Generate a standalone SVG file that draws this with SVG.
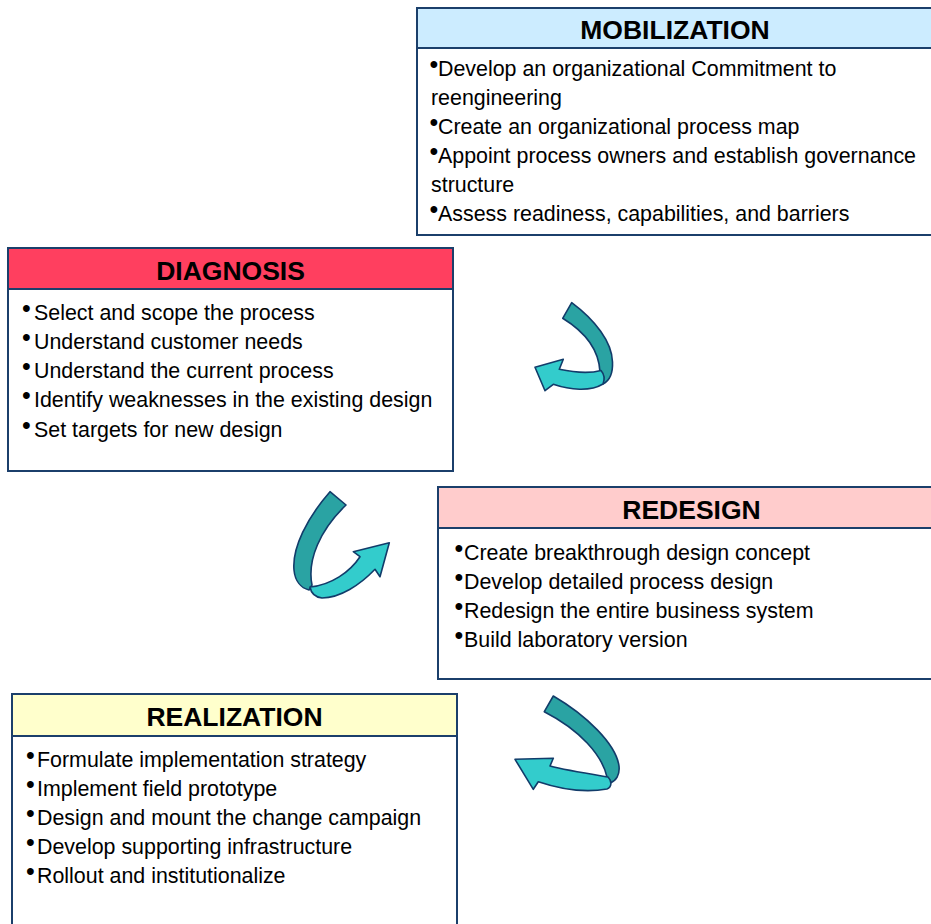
<svg xmlns="http://www.w3.org/2000/svg" width="931" height="924" viewBox="0 0 931 924">
<style>
.box{fill:#FFFFFF;stroke:#1B3F6B;stroke-width:2}
.hdr{stroke:#1B3F6B;stroke-width:2}
.ht{font-family:"Liberation Sans",Arial,sans-serif;font-weight:bold;font-size:26.5px;fill:#000;text-anchor:middle}
.t{font-family:"Liberation Sans",Arial,sans-serif;font-size:21.4px;fill:#000}
.b{font-family:"Liberation Sans",Arial,sans-serif;font-size:25px;fill:#000}
.dk{fill:#2AA3A3;stroke:#123C6A;stroke-width:1.6;stroke-linejoin:round}
.lt{fill:#33CCCC;stroke:#123C6A;stroke-width:1.6;stroke-linejoin:round}
</style>
<rect width="931" height="924" fill="#FFFFFF"/>

<g id="mobilization">
<rect class="box" x="417" y="8" width="530" height="227"/>
<rect class="hdr" x="417" y="8" width="530" height="40" fill="#CCECFF"/>
<text class="ht" x="675" y="39">MOBILIZATION</text>
<text class="b" x="429.5" y="73">•</text><text class="t" x="438" y="76">Develop an organizational Commitment to</text>
<text class="t" x="431" y="105">reengineering</text>
<text class="b" x="429.5" y="131">•</text><text class="t" x="438" y="134">Create an organizational process map</text>
<text class="b" x="429.5" y="160">•</text><text class="t" x="438" y="163">Appoint process owners and establish governance</text>
<text class="t" x="431" y="192">structure</text>
<text class="b" x="429.5" y="218">•</text><text class="t" x="438" y="221">Assess readiness, capabilities, and barriers</text>
</g>

<g id="diagnosis">
<rect class="box" x="8" y="248" width="445" height="223"/>
<rect class="hdr" x="8" y="248" width="445" height="41" fill="#FF3F5F"/>
<text class="ht" x="230.5" y="280">DIAGNOSIS</text>
<text class="b" x="22" y="317">•</text><text class="t" x="34" y="320">Select and scope the process</text>
<text class="b" x="22" y="346">•</text><text class="t" x="34" y="349">Understand customer needs</text>
<text class="b" x="22" y="375">•</text><text class="t" x="34" y="378">Understand the current process</text>
<text class="b" x="22" y="404">•</text><text class="t" x="34" y="407">Identify weaknesses in the existing design</text>
<text class="b" x="22" y="434">•</text><text class="t" x="34" y="437">Set targets for new design</text>
</g>

<g id="redesign">
<rect class="box" x="438" y="487" width="510" height="192"/>
<rect class="hdr" x="438" y="487" width="510" height="41" fill="#FFCCCC"/>
<text class="ht" x="691.5" y="518.5">REDESIGN</text>
<text class="b" x="454.5" y="557">•</text><text class="t" x="464" y="560">Create breakthrough design concept</text>
<text class="b" x="454.5" y="586">•</text><text class="t" x="464" y="589">Develop detailed process design</text>
<text class="b" x="454.5" y="615">•</text><text class="t" x="464" y="618">Redesign the entire business system</text>
<text class="b" x="454.5" y="644">•</text><text class="t" x="464" y="647">Build laboratory version</text>
</g>

<g id="realization">
<rect class="box" x="12" y="694" width="445" height="250"/>
<rect class="hdr" x="12" y="694" width="445" height="42" fill="#FFFFCC"/>
<text class="ht" x="234.5" y="726">REALIZATION</text>
<text class="b" x="26" y="764">•</text><text class="t" x="37" y="767">Formulate implementation strategy</text>
<text class="b" x="26" y="793">•</text><text class="t" x="37" y="796">Implement field prototype</text>
<text class="b" x="26" y="822">•</text><text class="t" x="37" y="825">Design and mount the change campaign</text>
<text class="b" x="26" y="851">•</text><text class="t" x="37" y="854">Develop supporting infrastructure</text>
<text class="b" x="26" y="880">•</text><text class="t" x="37" y="883">Rollout and institutionalize</text>
</g>

<g id="connectors">
<g id="arrow-mob-diag">
<path class="dk" d="M571.7,302.7 C595,320 612,342 612.5,362 C613,374 609,381 603,384 L600,372 C599,350 585,332 562.7,318.3 Z"/>
<path class="lt" d="M601,370.5 C588,374 572,372 559.3,369.3 L563.3,359.3 L535,367.3 L545,390.7 L553.3,384.3 C570,390 590,392 603,384 C605,379 604,374 601,370.5 Z"/>
</g>
<g id="arrow-diag-red">
<path class="dk" d="M330,491.7 C307,518 292,548 294,570 C295,581 301,588 309,590 L312,585 C307,560 320,530 346,505 Z"/>
<path class="lt" d="M310,587 C331,585 350,572 360,556.7 L353.3,551.7 L389.3,542.7 L380,576.7 L375,569.3 C360,585 340,598 322,598 C315,597 311,593 310,587 Z"/>
</g>
<g id="arrow-red-real">
<path class="dk" d="M553.3,696 C586,715 616,744 619,766 C620,775 616,781 610,783 L607,777 C602,755 580,730 544.3,711.7 Z"/>
<path class="lt" d="M608,777 C590,774 565,770 550,766 L553.3,758.3 L515,759.3 L533.3,789.3 L538.3,781.7 C560,789 585,793 607,789 C612,787 612,781 608,777 Z"/>
</g>
</g>
</svg>
